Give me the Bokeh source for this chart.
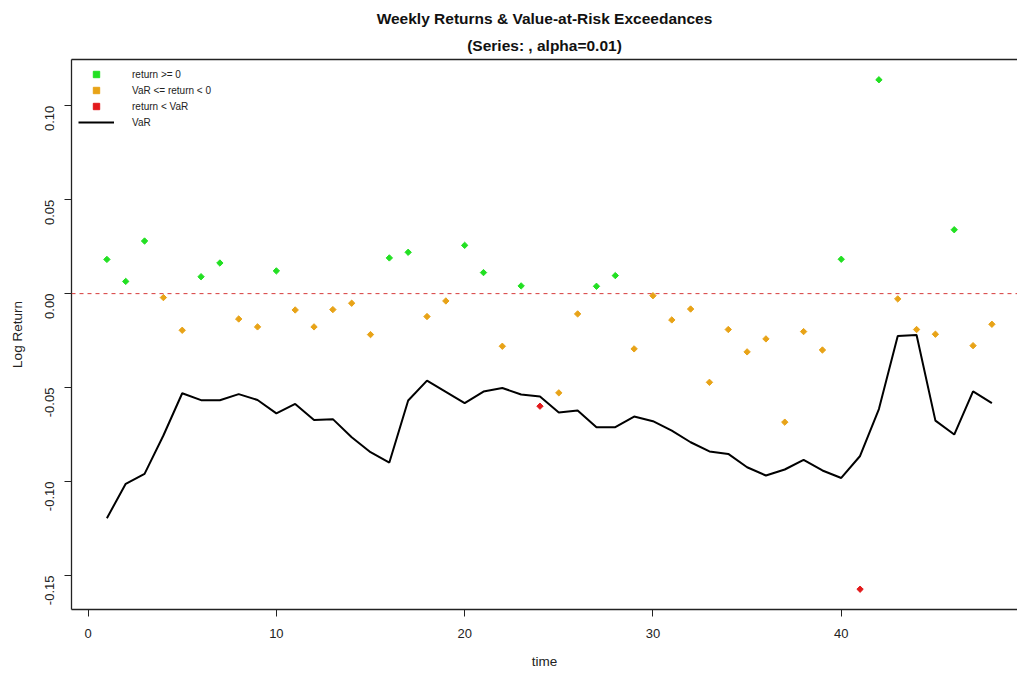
import math
from bokeh.plotting import figure
from bokeh.models import (Range1d, LinearAxis, FixedTicker, PrintfTickFormatter,
                          Span, Legend, LegendItem, Title)
from bokeh.embed import file_html
from bokeh.resources import INLINE

# ---- data ----
time = list(range(1, 49))
returns = [0.0182, 0.0065, 0.0280, -0.0021, -0.0195, 0.0090, 0.0163, -0.0135, -0.0177, 0.0121,
           -0.0087, -0.0177, -0.0085, -0.0051, -0.0218, 0.0190, 0.0220, -0.0122, -0.0039, 0.0257,
           0.0112, -0.0280, 0.0041, -0.0599, -0.0528, -0.0108, 0.0039, 0.0096, -0.0294, -0.0011,
           -0.0140, -0.0082, -0.0472, -0.0191, -0.0310, -0.0241, -0.0684, -0.0202, -0.0300, 0.0183,
           -0.1573, 0.1138, -0.0028, -0.0191, -0.0216, 0.0340, -0.0277, -0.0163]
var = [-0.1195, -0.1012, -0.0959, -0.0755, -0.0530, -0.0567, -0.0567, -0.0535, -0.0566, -0.0637,
       -0.0587, -0.0672, -0.0668, -0.0764, -0.0844, -0.0899, -0.0569, -0.0463, -0.0523, -0.0583,
       -0.0521, -0.0502, -0.0537, -0.0548, -0.0633, -0.0622, -0.0711, -0.0711, -0.0654, -0.0679,
       -0.0729, -0.0791, -0.0840, -0.0853, -0.0924, -0.0968, -0.0936, -0.0885, -0.0941, -0.0981,
       -0.0864, -0.0614, -0.0225, -0.0220, -0.0676, -0.0750, -0.0520, -0.0583]
x_ticks = [0, 10, 20, 30, 40]
y_ticks = [-0.15, -0.10, -0.05, 0.00, 0.05, 0.10]
labels = ["return >= 0", "VaR <= return < 0", "return < VaR", "VaR"]
title1 = "Weekly Returns & Value-at-Risk Exceedances"
title2 = "(Series: , alpha=0.01)"

GREEN = "#22E022"
ORANGE = "#E8A317"
RED = "#E31A1C"
FONT = "Liberation Sans"
AXC = "#222222"

# split points by class
pos = {"x": [], "y": []}
mid = {"x": [], "y": []}
neg = {"x": [], "y": []}
for t, r, v in zip(time, returns, var):
    if r >= 0:
        d = pos
    elif r >= v:
        d = mid
    else:
        d = neg
    d["x"].append(t)
    d["y"].append(r)

p = figure(width=1017, height=673, output_backend="svg", toolbar_location=None,
           x_range=Range1d(-0.88, 49.36), y_range=Range1d(-0.1681, 0.1246),
           min_border_left=71, min_border_right=0, min_border_top=59, min_border_bottom=64,
           x_axis_label="time", y_axis_label="Log Return")
p.title = None
p.grid.visible = False
p.outline_line_color = None
p.background_fill_color = "white"
p.border_fill_color = "white"

for ax in (p.xaxis[0], p.yaxis[0]):
    ax.axis_line_color = AXC
    ax.axis_line_width = 1.3
    ax.major_tick_line_color = AXC
    ax.major_tick_out = 7
    ax.major_tick_in = 0
    ax.minor_tick_line_color = None
    ax.major_label_text_font = FONT
    ax.major_label_text_font_size = "13px"
    ax.major_label_text_color = AXC
    ax.axis_label_text_font = FONT
    ax.axis_label_text_font_size = "13.5px"
    ax.axis_label_text_font_style = "normal"
    ax.axis_label_text_color = AXC

p.xaxis[0].ticker = FixedTicker(ticks=x_ticks)
p.xaxis[0].major_label_standoff = 12
p.xaxis[0].axis_label_standoff = 13
p.yaxis[0].ticker = FixedTicker(ticks=y_ticks)
p.yaxis[0].formatter = PrintfTickFormatter(format="%.2f")
p.yaxis[0].major_label_orientation = math.pi / 2
p.yaxis[0].major_label_standoff = 15
p.yaxis[0].axis_label_standoff = 13

# top border line (axis without ticks or labels)
top = LinearAxis(ticker=FixedTicker(ticks=y_ticks), major_tick_out=0, major_tick_in=0,
                 major_tick_line_color=None, minor_tick_line_color=None,
                 minor_tick_out=0, minor_tick_in=0, major_label_text_font_size="0px",
                 major_label_text_color=None, major_label_standoff=0,
                 axis_line_color=AXC, axis_line_width=1.3)
p.add_layout(top, "above")

# titles (later added = farther from frame)
p.add_layout(Title(text=title2, align="center", text_font=FONT, text_font_size="15.5px",
                   text_font_style="bold", text_color="#111111", standoff=12), "above")
p.add_layout(Title(text=title1, align="center", text_font=FONT, text_font_size="15.5px",
                   text_font_style="bold", text_color="#111111", standoff=3), "above")

# zero line
p.add_layout(Span(location=0, dimension="width", line_color="#D63A3A",
                  line_dash="4 4", line_width=1))

r_var = p.line(time, var, line_color="black", line_width=2)
r_pos = p.scatter(pos["x"], pos["y"], marker="square", angle=math.pi / 4, size=4.5,
                  fill_color=GREEN, line_color=GREEN)
r_mid = p.scatter(mid["x"], mid["y"], marker="square", angle=math.pi / 4, size=4.5,
                  fill_color=ORANGE, line_color=ORANGE)
r_neg = p.scatter(neg["x"], neg["y"], marker="square", angle=math.pi / 4, size=4.5,
                  fill_color=RED, line_color=RED)

legend = Legend(items=[LegendItem(label=labels[0], renderers=[r_pos]),
                       LegendItem(label=labels[1], renderers=[r_mid]),
                       LegendItem(label=labels[2], renderers=[r_neg]),
                       LegendItem(label=labels[3], renderers=[r_var])],
                location="top_left", margin=7, padding=0, spacing=0,
                glyph_width=36, glyph_height=16, label_standoff=18,
                label_text_font=FONT, label_text_font_size="10px",
                label_text_color=AXC, background_fill_alpha=0,
                border_line_color=None)
p.add_layout(legend)

open("out.html", "w").write(file_html(p, INLINE))
